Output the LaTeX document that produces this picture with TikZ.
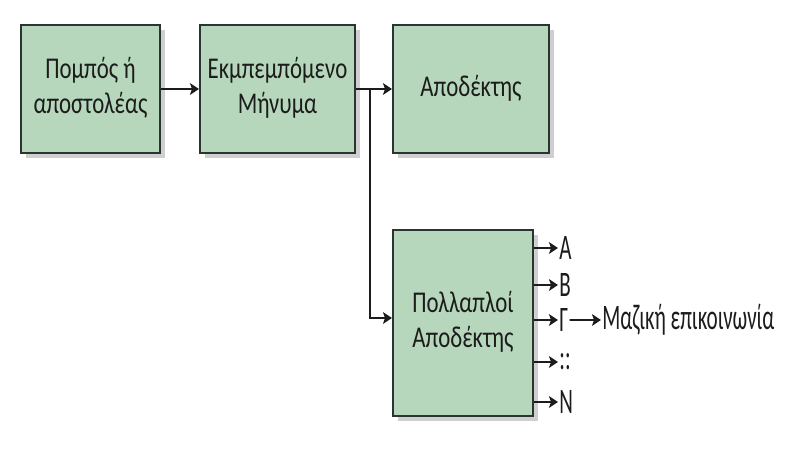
\documentclass[tikz,border=0pt]{standalone}
\usepackage{graphicx}
\usepackage{fontspec}
\setmainfont{Carlito}
\usetikzlibrary{arrows.meta,positioning,shadows}
\definecolor{Sage}{HTML}{B6D7BC}
\definecolor{Shade}{HTML}{CFCFD2}
\definecolor{Edge}{HTML}{2B3530}
\definecolor{Ink}{HTML}{1C1C1C}
\newcommand{\tallstack}[1]{\scalebox{1}[1.32]{\fontsize{19.5}{23}\selectfont\begin{tabular}{@{}c@{}}#1\end{tabular}}}
\tikzset{
  blockbox/.style={draw=Edge,line width=1.7pt,fill=Sage,text=Ink,inner sep=0pt,
    drop shadow={shadow xshift=0.16cm,shadow yshift=-0.16cm,fill=Shade,opacity=1}},
  flow/.style={Ink,line width=1.35pt,-{Stealth[length=2.7mm,width=3.5mm,inset=0.6mm]}},
  outlab/.style={text=Ink,font=\fontsize{18}{20}\selectfont,yscale=1.7,inner sep=1pt}
}

\begin{document}
\begin{tikzpicture}[x=0.03cm,y=-0.03cm]
        \useasboundingbox (0,0) rectangle (790,449);
        % main chain
        \node[blockbox,minimum width=4.17cm,minimum height=3.84cm] (src) at (90.5,89) {\tallstack{Πομπός ή\\αποστολέας}};
        \node[blockbox,minimum width=4.65cm,minimum height=3.84cm] (msg) at (277.5,89) {\tallstack{Εκμπεμπόμενο\\Μήνυμα}};
        \node[blockbox,minimum width=4.68cm,minimum height=3.84cm] (rcv) at (471,89) {\tallstack{Αποδέκτης}};
        \node[blockbox,minimum width=4.2cm,minimum height=5.58cm] (multi) at (463,323) {\tallstack{Πολλαπλοί\\Αποδέκτης}};
        \coordinate (split) at (370,89);
        \draw[flow] (src) -- (msg);
        \draw[flow] (msg) -- (rcv);
        \draw[flow] (split) |- ([yshift=0.15cm]multi.west);
        % outputs of the multiple receivers
        \foreach \y/\t/\k in {248/A/a,285/B/b,320/Γ/g,362/::/d,402/N/n}{
          \node[outlab,anchor=west] (out\k) at (558,\y) {\t};
          \draw[flow] (multi.east |- out\k.west) -- (out\k.west);
        }
        \node[outlab,anchor=west] (mass) at (601,320) {Μαζική επικοινωνία};
        \draw[flow] (outg) -- (mass);
      \end{tikzpicture}
\end{document}
